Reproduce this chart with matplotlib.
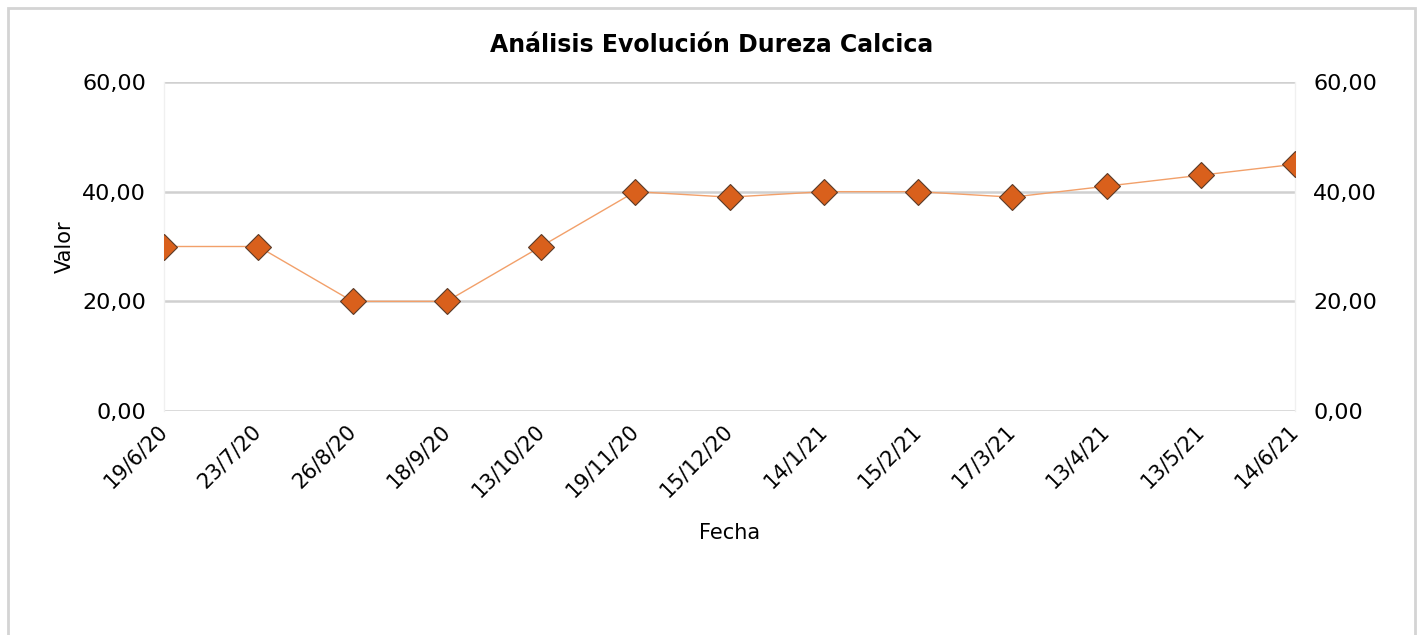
import numpy as np
import matplotlib.pyplot as plt
from matplotlib.patches import Rectangle

fechas = ['19/6/20', '23/7/20', '26/8/20', '18/9/20', '13/10/20', '19/11/20', '15/12/20',
          '14/1/21', '15/2/21', '17/3/21', '13/4/21', '13/5/21', '14/6/21']
valores = [30, 30, 20, 20, 30, 40, 39, 40, 40, 39, 41, 43, 45]
yticks = [0, 20, 40, 60]
ytick_labels = ['0,00', '20,00', '40,00', '60,00']

fig = plt.figure(figsize=(14.23, 6.35), dpi=100)
ax = fig.add_axes([164 / 1423, 1 - 411 / 635, (1295 - 164) / 1423, (411 - 82) / 635])

# outer chart border
fig.patches.append(Rectangle((8 / 1423, -0.1), (1415 - 8) / 1423, 1.1 - 8 / 635,
                             transform=fig.transFigure, fill=False,
                             edgecolor='#d4d4d4', linewidth=2))

x = np.arange(len(fechas))
ax.plot(x, valores, color='#f2a06a', linewidth=1, zorder=3)
ax.plot(x, valores, linestyle='none', marker='D', markersize=13,
        markerfacecolor='#d9601c', markeredgecolor='#5a3a28', markeredgewidth=0.8, zorder=4)

ax.set_xlim(0, len(fechas) - 1)
ax.set_ylim(0, 60)
ax.set_yticks(yticks)
ax.set_yticklabels(ytick_labels)
ax.set_xticks(x)
ax.set_xticklabels(fechas, rotation=45, ha='right', va='center', rotation_mode='anchor')
ax.yaxis.grid(True, color='#d0d0d0', linewidth=1.8)
ax.set_axisbelow(True)
ax.tick_params(axis='y', length=0, labelsize=16, pad=13, right=True, labelright=True)
ax.tick_params(axis='x', length=0, labelsize=15, pad=12)

for side in ['top', 'bottom']:
    ax.spines[side].set_visible(False)
for side in ['left', 'right']:
    ax.spines[side].set_color('#f0f0f0')
    ax.spines[side].set_linewidth(1)

ax.set_xlabel('Fecha', fontsize=15, labelpad=16)
ax.set_ylabel('Valor', fontsize=15, labelpad=5)
fig.text(712 / 1423, 1 - 45 / 635, 'Análisis Evolución Dureza Calcica',
         fontsize=17, fontweight='bold', ha='center', va='center')

fig.savefig('out.png', dpi=100)
